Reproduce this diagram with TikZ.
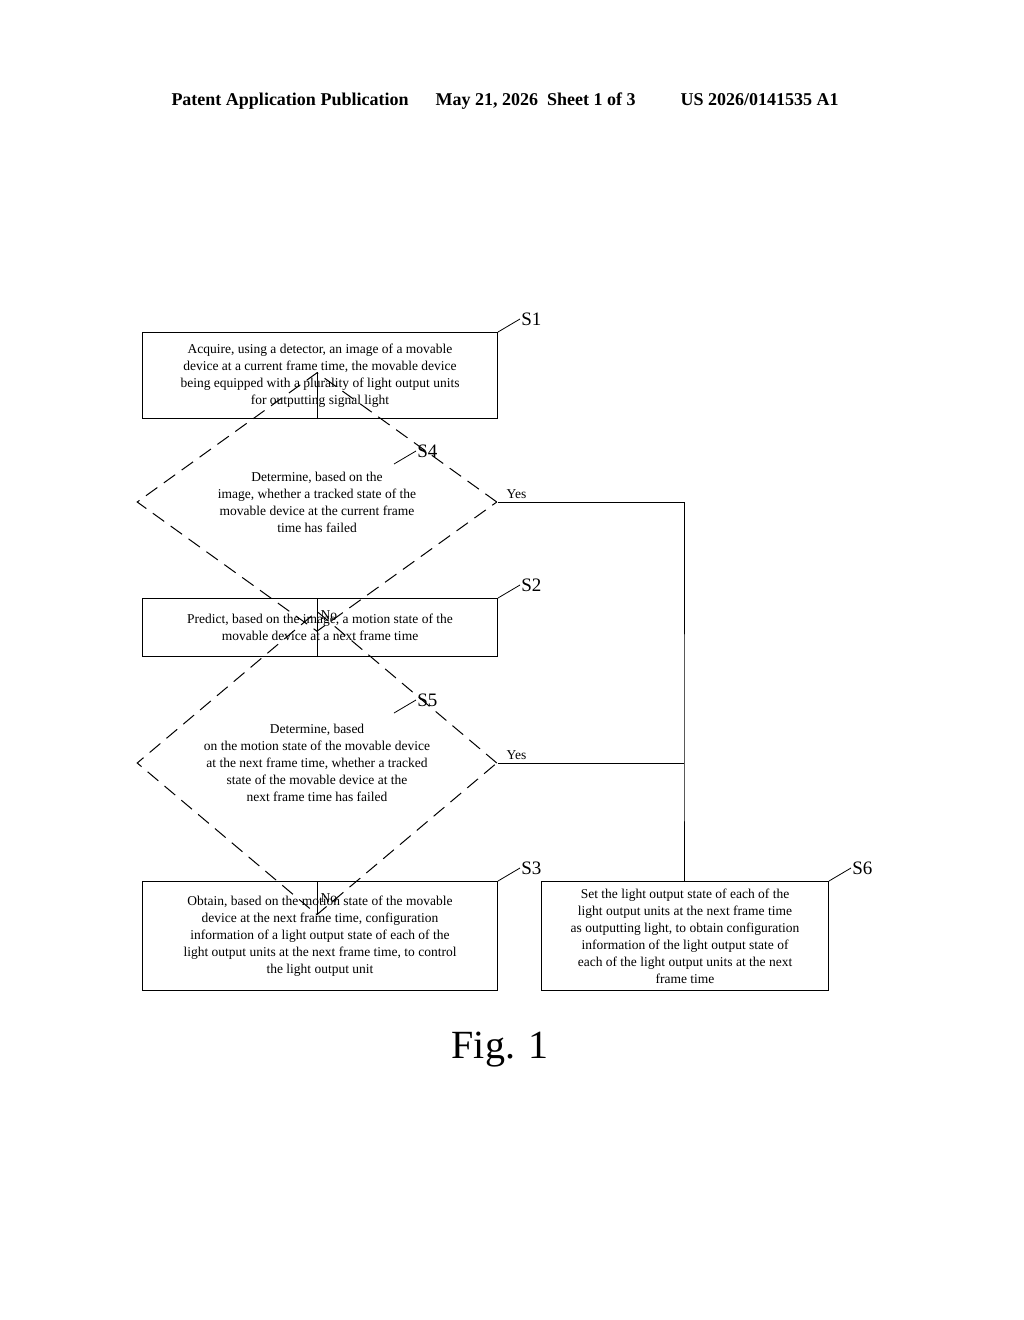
\documentclass[tikz,border=0pt]{standalone}
\usepackage{fontspec}
\setmainfont{Liberation Serif}
\usetikzlibrary{shapes.geometric}
\usetikzlibrary{positioning}
\tikzset{
  proc/.style={draw,rectangle,line width=1pt,font=\fontsize{13.5}{17}\selectfont,align=center,anchor=north west},
  test/.style={draw,diamond,dashed,dash pattern=on 14pt off 8pt,line width=1pt,minimum width=360pt,minimum height=125pt,inner sep=0pt,font=\fontsize{13.5}{17}\selectfont,align=center},
  lead/.style={line width=0.8pt},
  tag/.style={font=\fontsize{19}{19}\selectfont,anchor=west,inner sep=1pt},
  ans/.style={font=\fontsize{13.5}{16}\selectfont,inner sep=1pt},
  flow/.style={line width=1pt}
}
\begin{document}
\begin{tikzpicture}[x=1pt,y=-1pt]
\useasboundingbox (0,0) rectangle (1024,1320);
% header
\node[font=\bfseries\fontsize{18}{20}\selectfont] (head) at (505,101) {Patent Application Publication\quad\ \ May 21, 2026\ \ Sheet 1 of 3\qquad\ \ US 2026/0141535 A1};
% boxes
\node[proc,minimum width=355pt,minimum height=86pt] (s1) at (142,332) {Acquire, using a detector, an image of a movable\\device at a current frame time, the movable device\\being equipped with a plurality of light output units\\for outputting signal light};
\node[test] (s4) at (317,502) {Determine, based on the\\image, whether a tracked state of the\\movable device at the current frame\\time has failed};
\node[proc,minimum width=355pt,minimum height=58pt] (s2) at (142,598) {Predict, based on the image, a motion state of the\\movable device at a next frame time};
\node[test,minimum height=170pt] (s5) at (317,763) {Determine, based\\on the motion state of the movable device\\at the next frame time, whether a tracked\\state of the movable device at the\\next frame time has failed};
\node[proc,minimum width=355pt,minimum height=109pt] (s3) at (142,881) {Obtain, based on the motion state of the movable\\device at the next frame time, configuration\\information of a light output state of each of the\\light output units at the next frame time, to control\\the light output unit};
\node[proc,minimum width=287pt,minimum height=109pt] (s6) at (541,881) {Set the light output state of each of the\\light output units at the next frame time\\as outputting light, to obtain configuration\\information of the light output state of\\each of the light output units at the next\\frame time};
% connectors
\coordinate (j4) at (684,502);
\coordinate (j5) at (684,763);
\draw[flow] (s1.south -| s4.north) -- (s4.north);
\draw[flow] (s4.south) -- (s4.south |- s2.north) node[ans,pos=0.5,right=2pt] {No};
\draw[flow] (s2.south -| s5.north) -- (s5.north);
\draw[flow] (s5.south) -- (s5.south |- s3.north) node[ans,pos=0.5,right=2pt] {No};
\draw[flow] (s4.east) -- (j4) -- (j5) -- (s6.north -| j4);
\draw[flow] (s5.east) -- (j5);
\node[ans,above right=2pt and 8pt of s4.east] (y4) {Yes};
\node[ans,above right=2pt and 8pt of s5.east] (y5) {Yes};
% step tags
\draw[lead] (s1.north east) -- ++(22,-13) node[tag] (t1) {S1};
\draw[lead] (394,464) -- ++(22,-13) node[tag] (t4) {S4};
\draw[lead] (s2.north east) -- ++(22,-13) node[tag] (t2) {S2};
\draw[lead] (394,713) -- ++(22,-13) node[tag] (t5) {S5};
\draw[lead] (s3.north east) -- ++(22,-13) node[tag] (t3) {S3};
\draw[lead] (s6.north east) -- ++(22,-13) node[tag] (t6) {S6};
% caption
\node[font=\fontsize{40}{44}\selectfont] (fig) at (500,1050) {Fig. 1};
\end{tikzpicture}
\end{document}
